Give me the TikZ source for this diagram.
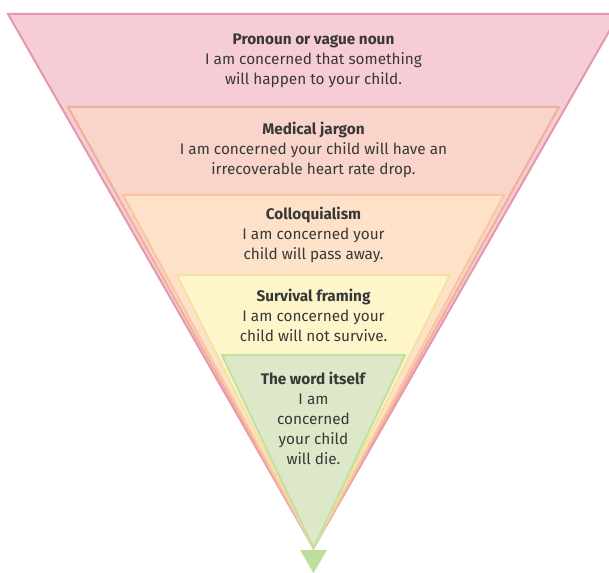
\documentclass[tikz,border=0pt]{standalone}
\usepackage{fontspec}
\setmainfont{Fira Sans}
\usetikzlibrary{positioning}
\definecolor{pinkfill}{HTML}{F7CDD5}
\definecolor{pinkline}{HTML}{E598A9}
\definecolor{salmonfill}{HTML}{F8D4CB}
\definecolor{salmonline}{HTML}{F2AE9C}
\definecolor{peachfill}{HTML}{FDE2C9}
\definecolor{peachline}{HTML}{FAC69E}
\definecolor{lemonfill}{HTML}{FEF5CB}
\definecolor{lemonline}{HTML}{F5E2A0}
\definecolor{sagefill}{HTML}{DDE8C9}
\definecolor{sageline}{HTML}{C3DFA2}
\definecolor{arrowgreen}{HTML}{BFDD9B}
\definecolor{textgray}{HTML}{383838}

\begin{document}
\begin{tikzpicture}[x=0.75pt,y=-0.75pt,
  band/.style={line width=1.5pt},
  txt/.style={align=center,inner sep=0pt,text=textgray,font=\fontsize{11.5}{15}\selectfont}]
 \useasboundingbox (0,0) rectangle (609,573);
 \clip (0,0) rectangle (609,573);
 \coordinate (apex) at (313.5,548);
 % nested bands, widest first
 \foreach \h/\y/\c in {305.5/14/pink,245.5/107/salmon,190.5/195/peach,136.5/275/lemon,91.5/355/sage} {
   \filldraw[band,fill=\c fill,draw=\c line] (313.5-\h,\y) -- (313.5+\h,\y) -- (apex) -- cycle;
 }
 \fill[arrowgreen] (300,550) -- (327,550) -- (313.5,573) -- cycle;
 \node[txt] (vague) at (313.5,61) {\textbf{Pronoun or vague noun}\\I am concerned that something\\will happen to your child.};
 \node[txt] (jargon) at (313.5,149.5) {\textbf{Medical jargon}\\I am concerned your child will have an\\irrecoverable heart rate drop.};
 \node[txt] (colloq) at (313.5,235) {\textbf{Colloquialism}\\I am concerned your\\child will pass away.};
 \node[txt] (survival) at (313.5,315) {\textbf{Survival framing}\\I am concerned your\\child will not survive.};
 \node[txt] (word) at (313.5,418.5) {\textbf{The word itself}\\I am\\concerned\\your child\\will die.};
\end{tikzpicture}
\end{document}
